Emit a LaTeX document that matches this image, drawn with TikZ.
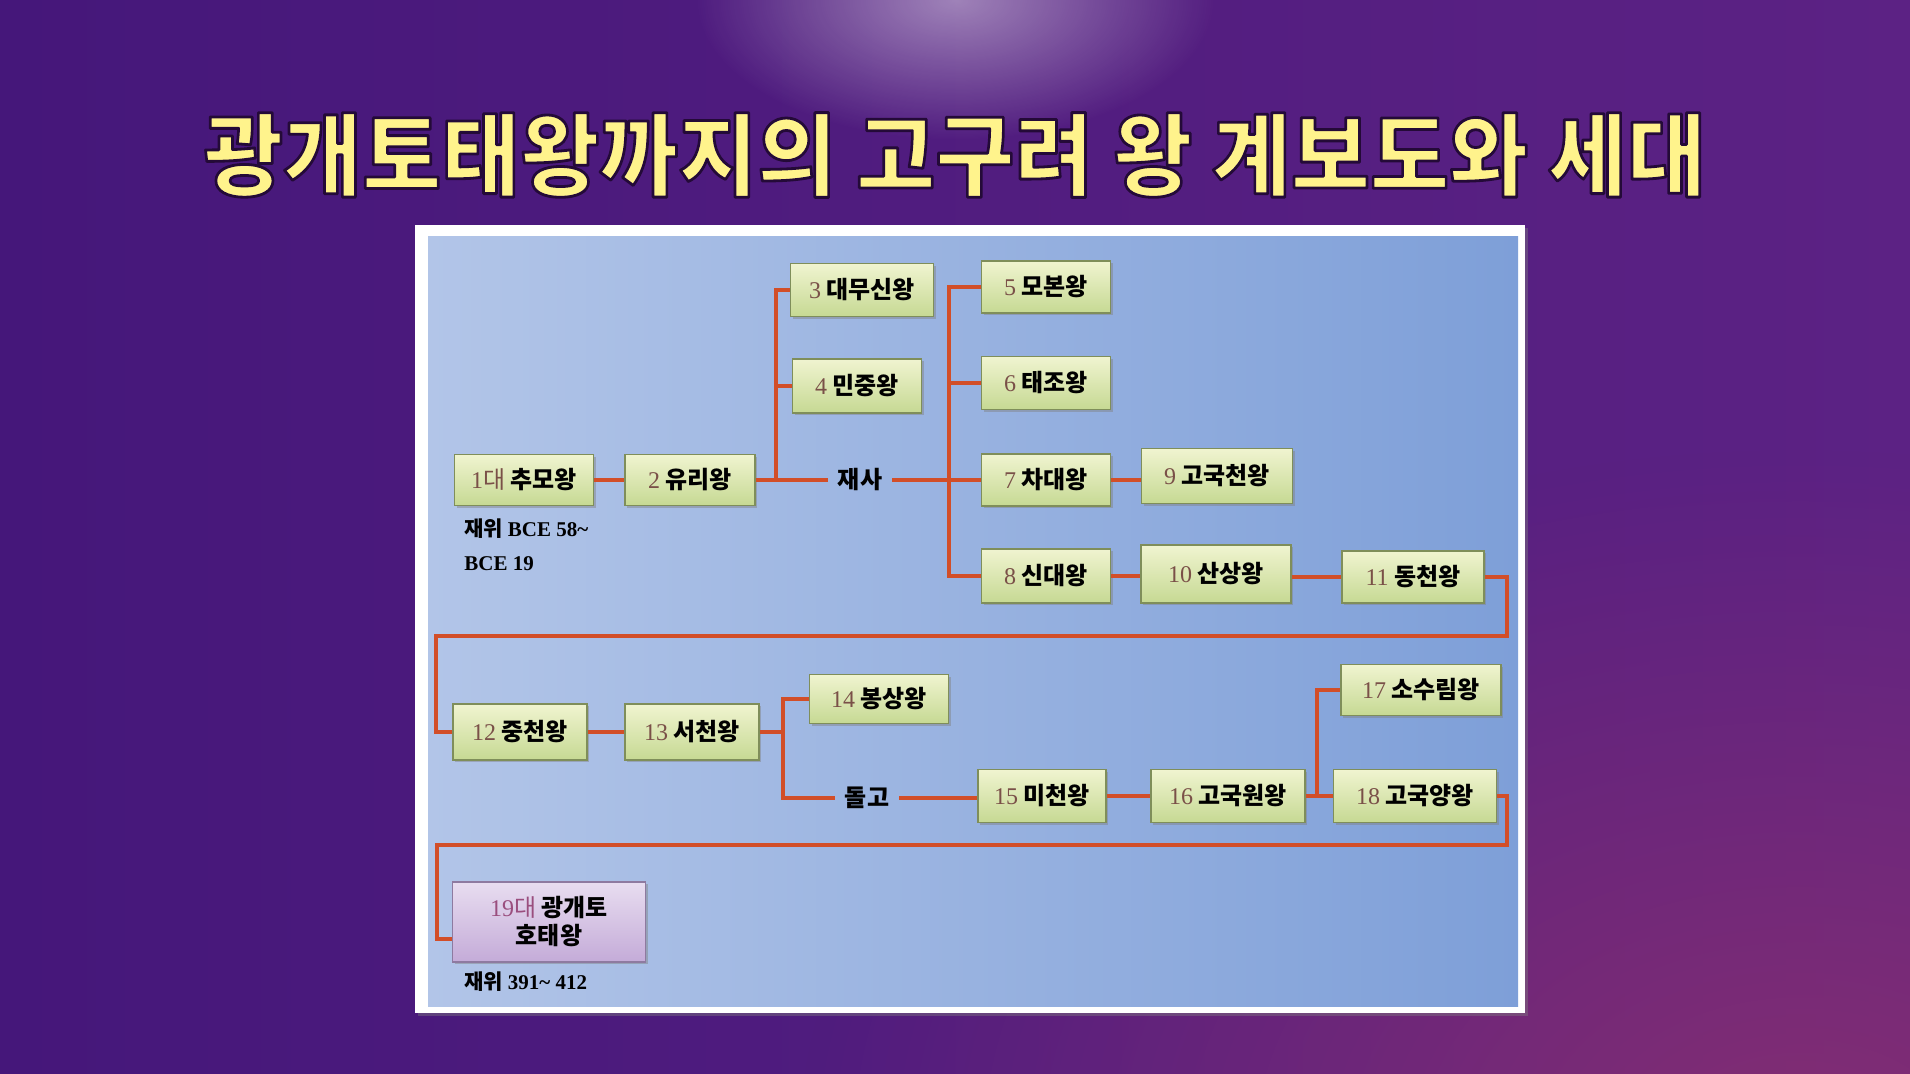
\documentclass[tikz,border=0pt]{standalone}
\usepackage{fontspec}
\newfontfamily\kr{Noto Sans CJK KR}
\newfontfamily\numsf{Liberation Serif}
\usetikzlibrary{shadows,fadings}
\definecolor{bgL}{HTML}{45177A}
\definecolor{bgR}{HTML}{5C2284}
\definecolor{bgMag}{HTML}{8A3070}
\definecolor{titleY}{HTML}{FFF38C}
\definecolor{panL}{HTML}{B2C5E8}
\definecolor{panR}{HTML}{7E9FD8}
\definecolor{boxT}{HTML}{F0F4D0}
\definecolor{boxB}{HTML}{C6D993}
\definecolor{boxD}{HTML}{7F8E5A}
\definecolor{purT}{HTML}{E8DDF0}
\definecolor{purB}{HTML}{C4ABD8}
\definecolor{purD}{HTML}{8E7AA0}
\definecolor{lineC}{HTML}{D24E28}
\definecolor{numC}{HTML}{7A5048}
\definecolor{numP}{HTML}{9A4E7E}
\tikzfading[name=glowfade, inner color=transparent!0, outer color=transparent!100]
\newcommand\kno[1]{{\numsf\mdseries\color{numC}#1}}
\newcommand\outlinetext[1]{\special{pdf:literal direct 2 Tr 1.4 w 1 j 0.14 0.04 0.22 RG}#1\special{pdf:literal direct 0 Tr}}
\begin{document}
\begin{tikzpicture}[x=0.5pt,y=-0.5pt,
  kbox/.style={draw=boxD, line width=0.8pt, top color=boxT, bottom color=boxB,
    drop shadow={shadow xshift=1.2pt, shadow yshift=-1.2pt, opacity=0.45},
    inner sep=0pt, align=center, font=\kr\bfseries\fontsize{12}{14}\selectfont},
  pbox/.style={kbox, draw=purD, top color=purT, bottom color=purB},
  conn/.style={draw=lineC, line width=1.6pt},
  lbl/.style={inner xsep=5pt, inner ysep=1pt, font=\kr\bfseries\fontsize{12}{14}\selectfont},
  note/.style={inner sep=0pt, anchor=west, font=\kr\bfseries\fontsize{10.5}{12}\selectfont}]
\useasboundingbox (0,0) rectangle (1910,1074);
% background
\fill[left color=bgL, right color=bgR] (0,0) rectangle (1910,1074);
\fill[bgMag, path fading=glowfade, opacity=0.85] (1800,1150) ellipse [x radius=1000, y radius=700];
\fill[white, path fading=glowfade, opacity=0.45] (955,0) ellipse [x radius=260, y radius=140];
% title
\node[font=\kr\bfseries\fontsize{45}{50}\selectfont, text=titleY] (title) at (955,155) {\scalebox{0.955}[1]{\outlinetext{광개토태왕까지의 고구려 왕 계보도와 세대}}};
% panel
\fill[white, drop shadow={shadow xshift=1.5pt, shadow yshift=-1.5pt, opacity=0.4}] (415,225) rectangle (1525,1013);
\fill[left color=panL, right color=panR] (428,237) rectangle (1518,1006);
% nodes
\node[kbox, minimum width=69.5pt, minimum height=25.5pt] (n1) at (524,480) {\kno{1}{\kr\mdseries\color{numC}대}\ 추모왕};
\node[kbox, minimum width=65pt, minimum height=25.5pt] (n2) at (690,480) {\kno{2}\ 유리왕};
\node[lbl] (jaesa) at (860,480) {재사};
\node[kbox, minimum width=71.5pt, minimum height=26.5pt] (n3) at (862,290) {\kno{3}\ 대무신왕};
\node[kbox, minimum width=64.5pt, minimum height=27pt] (n4) at (857,386) {\kno{4}\ 민중왕};
\node[kbox, minimum width=64.5pt, minimum height=26pt] (n5) at (1046,287) {\kno{5}\ 모본왕};
\node[kbox, minimum width=64.5pt, minimum height=26.5pt] (n6) at (1046,383) {\kno{6}\ 태조왕};
\node[kbox, minimum width=64.5pt, minimum height=26pt] (n7) at (1046,480) {\kno{7}\ 차대왕};
\node[kbox, minimum width=75.5pt, minimum height=27.5pt] (n9) at (1217,476) {\kno{9}\ 고국천왕};
\node[kbox, minimum width=64.5pt, minimum height=27pt] (n8) at (1046,576) {\kno{8}\ 신대왕};
\node[kbox, minimum width=75pt, minimum height=29pt] (n10) at (1216,574) {\kno{10}\ 산상왕};
\node[kbox, minimum width=71pt, minimum height=26pt] (n11) at (1413,577) {\kno{11}\ 동천왕};
\node[kbox, minimum width=67pt, minimum height=28pt] (n12) at (520,732) {\kno{12}\ 중천왕};
\node[kbox, minimum width=67pt, minimum height=28pt] (n13) at (692,732) {\kno{13}\ 서천왕};
\node[kbox, minimum width=69.5pt, minimum height=24.5pt] (n14) at (879,699) {\kno{14}\ 봉상왕};
\node[lbl] (dolgo) at (867,798) {돌고};
\node[kbox, minimum width=64pt, minimum height=26.5pt] (n15) at (1042,796) {\kno{15}\ 미천왕};
\node[kbox, minimum width=77pt, minimum height=26.5pt] (n16) at (1228,796) {\kno{16}\ 고국원왕};
\node[kbox, minimum width=80pt, minimum height=25.5pt] (n17) at (1421,690) {\kno{17}\ 소수림왕};
\node[kbox, minimum width=81.5pt, minimum height=26.5pt] (n18) at (1415,796) {\kno{18}\ 고국양왕};
\node[pbox, minimum width=96.5pt, minimum height=40pt] (n19) at (549,922) {{\numsf\mdseries\color{numP}19}{\kr\mdseries\color{numP}대}\ 광개토\\호태왕};
% notes
\node[note] (r1a) at (464,529) {재위 {\numsf BCE 58\textasciitilde}};
\node[note] (r1b) at (464,564) {{\numsf BCE 19}};
\node[note] (r19) at (464,982) {재위 {\numsf 391\textasciitilde\ 412}};
% connectors
\coordinate (b1) at (776,480);
\coordinate (b2) at (949,480);
\coordinate (c11a) at (1507,577);
\coordinate (c11b) at (1507,636);
\coordinate (c11c) at (436,636);
\coordinate (b3) at (783,732);
\coordinate (b4) at (1317,796);
\coordinate (c18a) at (1507,796);
\coordinate (c18b) at (1507,845);
\coordinate (c18c) at (437,845);
\coordinate (c18d) at (437,939);
\draw[conn] (n1.east) -- (n2.west);
\draw[conn] (n2.east) -- (jaesa.west);
\draw[conn] (n3.west) -| (b1);
\draw[conn] (b1 |- n4.west) -- (n4.west);
\draw[conn] (jaesa.east) -- (n7.west);
\draw[conn] (n5.west) -| (b2 |- n8.west) -- (n8.west);
\draw[conn] (b2 |- n6.west) -- (n6.west);
\draw[conn] (n7.east) -- (n7.east -| n9.west);
\draw[conn] (n8.east) -- (n8.east -| n10.west);
\draw[conn] (n10.east |- n11.west) -- (n11.west);
\draw[conn] (n11.east) -- (c11a) -- (c11b) -- (c11c) |- (n12.west);
\draw[conn] (n12.east) -- (n13.west);
\draw[conn] (n13.east) -- (b3);
\draw[conn] (n14.west) -| (b3 |- dolgo.west) -- (dolgo.west);
\draw[conn] (dolgo.east) -- (dolgo.east -| n15.west);
\draw[conn] (n15.east) -- (n16.west);
\draw[conn] (n16.east) -- (n18.west);
\draw[conn] (b4) |- (n17.west);
\draw[conn] (n18.east) -- (c18a) -- (c18b) -- (c18c) -- (c18d) -- (c18d -| n19.west);
\end{tikzpicture}
\end{document}
